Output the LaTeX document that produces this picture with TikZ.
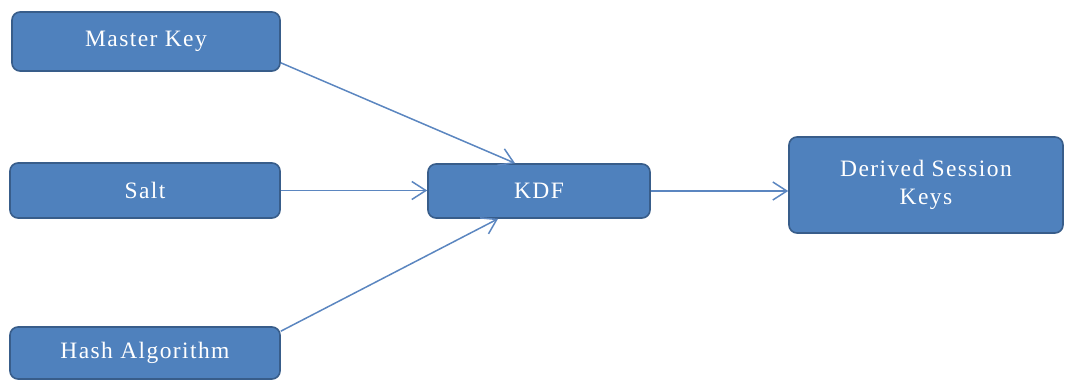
\documentclass[tikz,border=0pt]{standalone}
\usepackage{fontspec}
\setmainfont{Liberation Serif}
\usetikzlibrary{arrows.meta,calc}
\definecolor{boxfill}{HTML}{4F81BD}
\definecolor{boxdraw}{HTML}{385D8A}
\definecolor{linecol}{HTML}{5B86C0}
\tikzset{
  box/.style={draw=boxdraw, line width=1.6pt, fill=boxfill, rounded corners=8pt,
    text=white, font=\fontsize{23.5}{28}\selectfont\addfontfeature{LetterSpace=6},
    align=center, inner sep=0pt},
  conn/.style={draw=linecol, line width=1.5pt, -{Straight Barb[length=14pt,width=18pt,line width=1.5pt]}}
}
\begin{document}
\begin{tikzpicture}[x=1pt,y=-1pt]
\useasboundingbox (0,0) rectangle (1073,381);
\node[box, minimum width=268pt, minimum height=59pt] (mk) at (146,41.5) {Master Key};
\node[box, minimum width=270pt, minimum height=55pt] (salt) at (145,190.5) {Salt};
\node[box, minimum width=270pt, minimum height=52pt] (hash) at (145,353) {Hash Algorithm};
\node[box, minimum width=222pt, minimum height=54pt] (kdf) at (539,191) {KDF};
\node[box, minimum width=274pt, minimum height=96pt] (dsk) at (926,185) {Derived Session\\Keys};
\draw[conn] ([yshift=9pt]mk.south east) -- ([xshift=-24pt]kdf.north);
\draw[conn] (salt.east) -- (salt.east -| kdf.west);
\draw[conn] ([yshift=-5pt]hash.north east) -- ([xshift=-41pt]kdf.south);
\draw[conn] (kdf.east) -- (kdf.east -| dsk.west);
\end{tikzpicture}
\end{document}
